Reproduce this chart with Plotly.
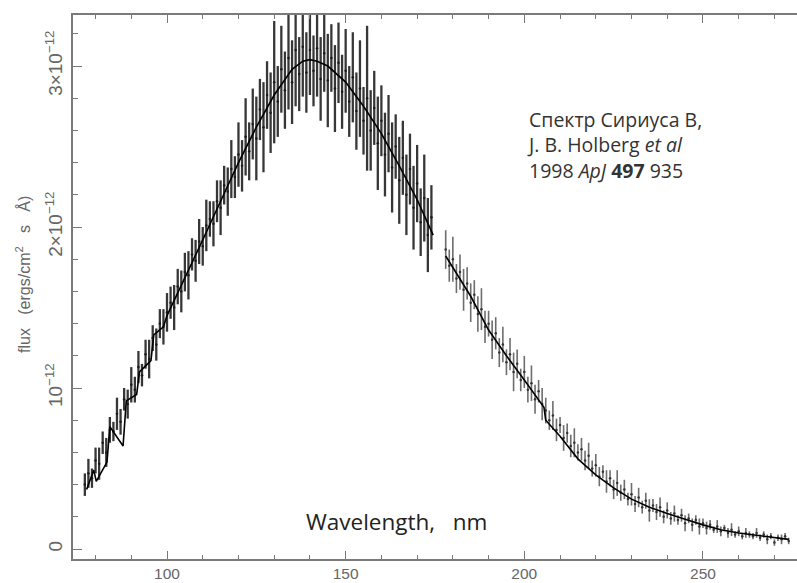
import plotly.graph_objects as go

# ---- data (flux in units of 1e-12 erg/cm^2/s/A) ----
wl_left = [77, 78, 79, 80, 81, 82, 83, 84, 85, 86, 87, 88, 89, 90, 91, 92, 93, 94, 95, 96, 97, 98, 99,
           100, 101, 102, 103, 104, 105, 106, 107, 108, 109, 110, 111, 112, 113, 114, 115, 116, 117, 118, 119,
           120, 121, 122, 123, 124, 125, 126, 127, 128, 129, 130, 131, 132, 133, 134, 135, 136, 137, 138, 139,
           140, 141, 142, 143, 144, 145, 146, 147, 148, 149,
           150, 151, 152, 153, 154, 155, 156, 157, 158, 159, 160, 161, 162, 163, 164, 165, 166, 167, 168, 169,
           170, 171, 172, 173, 174]
flux_left = [0.40, 0.47, 0.44, 0.55, 0.53, 0.66, 0.60, 0.74, 0.73, 0.84, 0.79, 0.93, 0.90, 1.02, 0.99, 1.13,
             1.08, 1.21, 1.18, 1.31, 1.27, 1.40, 1.38,
             1.47, 1.53, 1.50, 1.63, 1.60, 1.72, 1.70, 1.83, 1.79, 1.91, 1.88, 2.01, 2.05, 2.02, 2.16, 2.12,
             2.26, 2.22, 2.36, 2.31,
             2.45, 2.38, 2.56, 2.47, 2.64, 2.55, 2.73, 2.62, 2.82, 2.71, 2.90, 2.78, 2.98, 2.85, 3.05, 2.90,
             3.10, 2.95, 3.12, 2.96, 3.10, 2.97, 3.11, 2.92, 3.08, 2.91, 3.05, 2.86, 3.02, 2.84,
             2.97, 2.78, 2.93, 2.72, 2.86, 2.66, 2.80, 2.60, 2.74, 2.52, 2.66, 2.45, 2.58, 2.37, 2.50, 2.29,
             2.43, 2.20, 2.36, 2.12, 2.27, 2.03, 2.18, 1.95, 2.06]
err_left = [0.07, 0.09, 0.06, 0.08, 0.10, 0.07, 0.09, 0.08, 0.06, 0.10, 0.08, 0.07, 0.09, 0.11, 0.08, 0.10,
            0.07, 0.09, 0.12, 0.08, 0.10, 0.09, 0.11,
            0.12, 0.10, 0.14, 0.11, 0.13, 0.12, 0.15, 0.10, 0.13, 0.14, 0.12, 0.16, 0.11, 0.14, 0.13, 0.17,
            0.12, 0.15, 0.18, 0.13,
            0.20, 0.16, 0.24, 0.18, 0.22, 0.26, 0.19, 0.28, 0.21, 0.25, 0.38, 0.22, 0.27, 0.24, 0.32, 0.26,
            0.35, 0.23, 0.31, 0.25, 0.28, 0.22, 0.30, 0.26, 0.24, 0.29, 0.21, 0.27, 0.25, 0.23,
            0.26, 0.22, 0.28, 0.24, 0.30, 0.21, 0.45, 0.25, 0.23, 0.29, 0.22, 0.26, 0.24, 0.28, 0.20, 0.27,
            0.23, 0.25, 0.22, 0.26, 0.24, 0.21, 0.27, 0.23, 0.20]

wl_right = [178, 179, 180, 181, 182, 183, 184, 185, 186, 187, 188, 189, 190, 191, 192, 193, 194, 195, 196,
            197, 198, 199, 200, 201, 202, 203, 204, 205,
            206, 207, 208, 209, 210, 211, 212, 213, 214, 215, 216, 217, 218, 219, 220, 221, 222, 223, 224,
            225, 226, 227, 228, 229, 230, 231, 232, 233, 234, 235, 236, 237, 238, 239, 240,
            241, 242, 243, 244, 245, 246, 247, 248, 249, 250, 251, 252, 253, 254, 255, 256, 257, 258, 259,
            260, 261, 262, 263, 264, 265, 266, 267, 268, 269, 270, 271, 272, 273, 274]
flux_right = [1.86, 1.76, 1.80, 1.68, 1.72, 1.61, 1.65, 1.53, 1.58, 1.46, 1.49, 1.38, 1.40, 1.30, 1.34, 1.22,
              1.27, 1.16, 1.21, 1.10, 1.15, 1.05, 1.10, 0.99, 1.03, 0.93, 0.98, 0.90,
              0.86, 0.80, 0.83, 0.74, 0.77, 0.69, 0.72, 0.64, 0.66, 0.60, 0.62, 0.55, 0.58, 0.50, 0.52, 0.45,
              0.48, 0.42, 0.44, 0.37, 0.41, 0.35, 0.37, 0.31, 0.34, 0.28, 0.32, 0.26, 0.30, 0.24, 0.27, 0.23,
              0.26, 0.20, 0.24,
              0.19, 0.22, 0.18, 0.21, 0.16, 0.19, 0.15, 0.18, 0.14, 0.16, 0.13, 0.15, 0.12, 0.14, 0.11, 0.13,
              0.10, 0.12, 0.09, 0.11, 0.08, 0.10, 0.09, 0.08, 0.10, 0.07, 0.09, 0.06, 0.08, 0.04, 0.07, 0.06,
              0.08, 0.05]
err_right = [0.12, 0.10, 0.14, 0.09, 0.11, 0.13, 0.10, 0.12, 0.09, 0.11, 0.13, 0.10, 0.08, 0.12, 0.10, 0.09,
             0.11, 0.08, 0.10, 0.12, 0.09, 0.07, 0.10, 0.08, 0.11, 0.09, 0.07, 0.10,
             0.08, 0.06, 0.09, 0.07, 0.05, 0.08, 0.06, 0.07, 0.09, 0.05, 0.07, 0.06, 0.08, 0.05, 0.07, 0.06,
             0.04, 0.07, 0.05, 0.06, 0.08, 0.05, 0.06, 0.04, 0.07, 0.05, 0.06, 0.04, 0.05, 0.07, 0.04, 0.05,
             0.06, 0.04, 0.05,
             0.04, 0.05, 0.03, 0.04, 0.05, 0.03, 0.04, 0.03, 0.05, 0.03, 0.04, 0.03, 0.02, 0.04, 0.03, 0.02,
             0.03, 0.04, 0.02, 0.03, 0.02, 0.03, 0.02, 0.02, 0.03, 0.02, 0.02, 0.03, 0.02, 0.02, 0.02, 0.03,
             0.02, 0.02]

# model atmosphere curve (None = gap between detector segments)
model_wl = [77.5, 79.5, 80.2, 83.2, 84.0, 87.7, 88.6, 91.5, 92.3, 95.5, 96.3, 99.0, 100, 105, 110, 115, 120,
            125, 130, 135, 138, 140, 142, 145, 150, 155, 160, 165, 170, 174.5, None,
            178, 180, 185, 190, 195, 200, 203.5, 205.5, 206, 210, 215, 220, 225, 230, 235, 240, 245, 250,
            255, 260, 265, 270, 274]
model_flux = [0.37, 0.49, 0.42, 0.54, 0.76, 0.64, 0.92, 0.96, 1.10, 1.17, 1.33, 1.38, 1.45, 1.68, 1.92, 2.16,
              2.40, 2.62, 2.82, 2.98, 3.03, 3.04, 3.03, 3.00, 2.90, 2.75, 2.58, 2.38, 2.17, 1.95, None,
              1.82, 1.75, 1.57, 1.36, 1.20, 1.05, 0.94, 0.88, 0.80, 0.70, 0.56, 0.46, 0.38, 0.31, 0.26,
              0.22, 0.185, 0.15, 0.12, 0.10, 0.085, 0.07, 0.06]

y_tickvals = [0, 1, 2, 3]
y_ticktext = ["0", "10<sup>−12</sup>", "2×10<sup>−12</sup>", "3×10<sup>−12</sup>"]
x_tickvals = [100, 150, 200, 250]

axis_grey = "#7a7a7a"
label_grey = "#666666"

# plot-area pixel frame
L, R, T, B = 73, 797, 15, 559
W, H = 797, 583

fig = go.Figure()
fig.add_trace(go.Scatter(
    x=wl_left, y=flux_left, mode="markers",
    marker=dict(size=2.5, color="#1a1a1a"),
    error_y=dict(type="data", array=err_left, visible=True, thickness=2.3, width=0, color="rgba(20,20,20,0.85)"),
    showlegend=False, hoverinfo="skip"))
fig.add_trace(go.Scatter(
    x=wl_right, y=flux_right, mode="markers",
    marker=dict(size=2.5, color="#333333"),
    error_y=dict(type="data", array=err_right, visible=True, thickness=1.6, width=0, color="rgba(60,60,60,0.75)"),
    showlegend=False, hoverinfo="skip"))

fig.add_trace(go.Scatter(x=model_wl, y=model_flux, mode="lines",
                         line=dict(color="#000000", width=1.6), connectgaps=False,
                         showlegend=False, hoverinfo="skip"))

fig.update_layout(
    width=W, height=H,
    margin=dict(l=L, r=W - R, t=T, b=H - B, autoexpand=False),
    paper_bgcolor="white", plot_bgcolor="white",
    font=dict(family="Liberation Sans, Arial, sans-serif", color=label_grey, size=14),
)
fig.update_xaxes(
    range=[73.69, 276.32], tickvals=x_tickvals, ticks="inside", ticklen=8, tickwidth=1.3,
    tickcolor=axis_grey, showline=True, linecolor=axis_grey, linewidth=1.5, mirror="ticks",
    showgrid=False, zeroline=False, tickfont=dict(size=15.5, color=label_grey),
    ticklabelstandoff=0, automargin=False,
    minor=dict(dtick=10, tick0=0, ticks="inside", ticklen=4, tickcolor=axis_grey, tickwidth=1.2, showgrid=False),
)
fig.update_yaxes(
    range=[-0.062, 3.317], tickvals=y_tickvals, ticktext=y_ticktext, tickangle=-90,
    ticks="inside", ticklen=9, tickwidth=1.3, tickcolor=axis_grey,
    showline=True, linecolor=axis_grey, linewidth=1.5, mirror=False,
    showgrid=False, zeroline=False, tickfont=dict(size=19, color=label_grey),
    ticklabelstandoff=2, automargin=False,
    minor=dict(dtick=0.2, tick0=0, ticks="inside", ticklen=5, tickcolor=axis_grey, tickwidth=1.2, showgrid=False),
)


def px(xp):
    return (xp - L) / (R - L)


def py(yp):
    return (B - yp) / (B - T)


# y-axis title
fig.add_annotation(x=px(23), y=py(275), xref="paper", yref="paper",
                   text="flux&nbsp;&nbsp;&nbsp;(ergs/cm<sup>2</sup>&nbsp;&nbsp;&nbsp;s&nbsp;&nbsp;&nbsp;Å)",
                   showarrow=False, textangle=-90, font=dict(size=16, color=label_grey),
                   xanchor="center", yanchor="middle")

# citation block
fig.add_annotation(x=px(525), y=py(145), xref="paper", yref="paper",
                   text="Спектр Сириуса B,<br>J. B. Holberg <i>et al</i><br>1998 <i>ApJ</i> <b>497</b> 935",
                   showarrow=False, align="left", xanchor="left", yanchor="middle",
                   font=dict(family="Open Sans, Noto Sans, sans-serif", size=19.5, color="#333333"))

fig.add_annotation(x=px(396), y=py(521), xref="paper", yref="paper",
                   text="Wavelength,&nbsp;&nbsp;&nbsp;nm", showarrow=False,
                   xanchor="center", yanchor="middle",
                   font=dict(family="Open Sans, Noto Sans, sans-serif", size=22.5, color="#222222"))

fig.write_html("out.html", config={"displayModeBar": False},
               post_script="document.body.style.margin='0';document.body.style.overflow='hidden';")
